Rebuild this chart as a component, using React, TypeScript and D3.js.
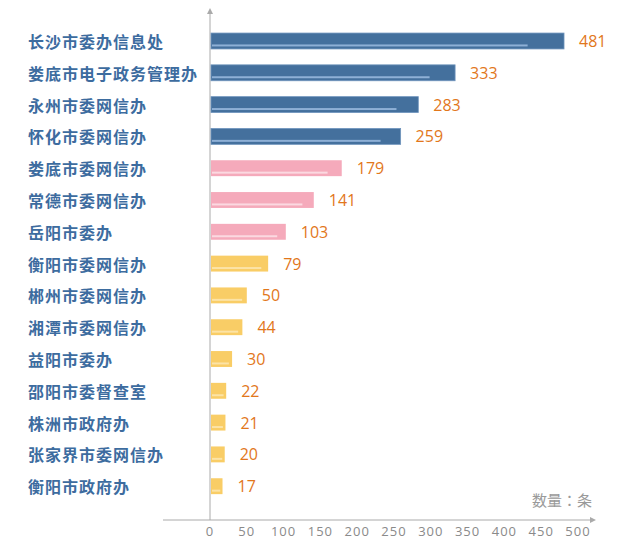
import React from "react";
import * as d3 from "d3";

const categories = [
  "长沙市委办信息处",
  "娄底市电子政务管理办",
  "永州市委网信办",
  "怀化市委网信办",
  "娄底市委网信办",
  "常德市委网信办",
  "岳阳市委办",
  "衡阳市委网信办",
  "郴州市委网信办",
  "湘潭市委网信办",
  "益阳市委办",
  "邵阳市委督查室",
  "株洲市政府办",
  "张家界市委网信办",
  "衡阳市政府办",
];
const values = [481, 333, 283, 259, 179, 141, 103, 79, 50, 44, 30, 22, 21, 20, 17];
const groups = [0, 0, 0, 0, 1, 1, 1, 2, 2, 2, 2, 2, 2, 2, 2];
const xTicks = [0, 50, 100, 150, 200, 250, 300, 350, 400, 450, 500];
const barColors = ["#44709d", "#f5aabb", "#f9cd66"];
const stripeColors = ["#8eb0d6", "#fbd9e1", "#fce3a6"];
const unitLabel = "数量：条";

export default function App() {
  const W = 640;
  const H = 556;
  const x0 = 210;
  const x = d3.scaleLinear().domain([0, 500]).range([x0, 578]);
  const step = 31.8;
  const y = d3
    .scaleBand<string>()
    .domain(categories)
    .range([41 - step / 2, 41 - step / 2 + step * categories.length])
    .paddingInner(0.5)
    .paddingOuter(0.25);
  const bw = y.bandwidth();
  const axisY = 520;
  const axisColor = "#aaaaaa";

  return (
    <svg
      width={W}
      height={H}
      style={{ position: "absolute", left: 0, top: 0, background: "#fff" }}
    >
      <line x1={x0} x2={x0} y1={10} y2={axisY} stroke={axisColor} strokeWidth={1} />
      <path d={`M${x0 - 3},${14} L${x0},${8} L${x0 + 3},${14} Z`} fill={axisColor} />
      <line x1={163} x2={594} y1={axisY} y2={axisY} stroke={axisColor} strokeWidth={1} />
      <path d={`M${590},${axisY - 3} L${596},${axisY} L${590},${axisY + 3} Z`} fill={axisColor} />
      {xTicks.map((t) => (
        <text
          key={t}
          x={x(t)}
          y={536}
          textAnchor="middle"
          fontFamily="'Open Sans', 'DejaVu Sans', sans-serif"
          fontSize={13}
          letterSpacing={1}
          fill="#8a8a8a"
        >
          {t}
        </text>
      ))}
      <text
        x={592}
        y={506}
        textAnchor="end"
        fontFamily="'Noto Sans CJK JP', 'Noto Sans CJK SC', sans-serif"
        fontSize={15}
        fill="#9a9a9a"
      >
        {unitLabel}
      </text>

      {categories.map((c, i) => {
        const yy = y(c)!;
        const xe = x(values[i]);
        const len = xe - x0;
        const g = groups[i];
        return (
          <g key={c}>
            <text
              x={28}
              y={yy + bw / 2}
              dominantBaseline="central"
              fontFamily="'Noto Sans CJK SC', sans-serif"
              fontWeight={700}
              fontSize={16}
              letterSpacing={1}
              fill="#3d6c9f"
            >
              {c}
            </text>
            <rect x={x0 + 1} y={yy} width={len - 1} height={bw} fill={barColors[g]} />
            {g === 0 && (
              <rect
                x={x0 + 1}
                y={yy}
                width={len - 1}
                height={bw}
                fill="none"
                stroke="#6f94bd"
                strokeWidth={0.8}
              />
            )}
            <rect
              x={x0 + 2}
              y={yy + bw - 4.5}
              width={Math.max(0, len * 0.9 - 3)}
              height={2}
              fill={stripeColors[g]}
            />
            <text
              x={xe + 15}
              y={yy + bw / 2}
              dominantBaseline="central"
              fontFamily="'Open Sans', 'DejaVu Sans', sans-serif"
              fontSize={16}
              fill="#e2771b"
            >
              {values[i]}
            </text>
          </g>
        );
      })}
    </svg>
  );
}
